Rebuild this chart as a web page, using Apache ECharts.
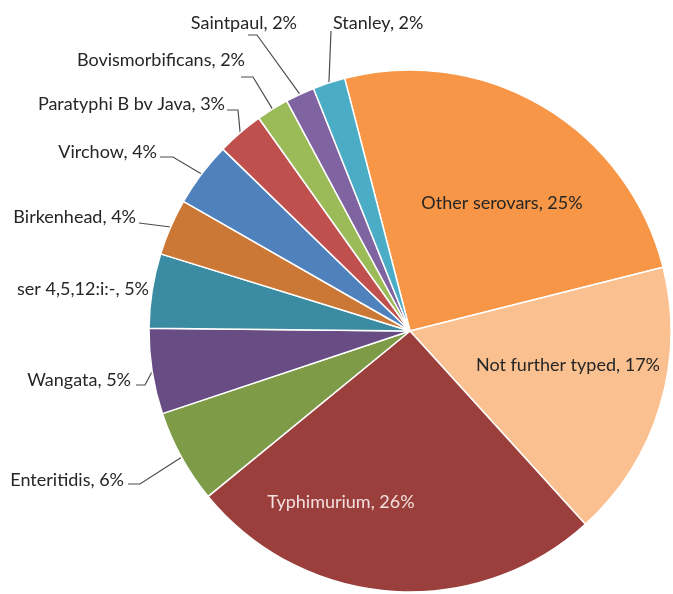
<!DOCTYPE html>
<html>
<head>
<meta charset="utf-8">
<script src="https://cdn.jsdelivr.net/npm/echarts@6/dist/echarts.min.js"></script>
<style>
html,body{margin:0;padding:0;background:#fff;}
#c{width:673px;height:594px;}
</style>
</head>
<body>
<div id="c"></div>
<script>
// Data (percent shares, clockwise from "Other serovars")
const categories = ['Other serovars','Not further typed','Typhimurium','Enteritidis','Wangata','ser 4,5,12:i:-','Birkenhead','Virchow','Paratyphi B bv Java','Bovismorbificans','Saintpaul','Stanley'];
const values = [25.1, 17.2, 25.8, 5.8, 5.3, 4.6, 3.5, 4.0, 2.9, 2.0, 1.8, 2.0];
const labelPercents = [25, 17, 26, 6, 5, 5, 4, 4, 3, 2, 2, 2];

// Styles
const colors = ['#F79646','#FAC090','#9B3F3D','#7E9B48','#684D85','#3B8CA3','#CB7836','#4F81BD','#C0504D','#9BBB59','#8064A2','#4BACC6'];
// label placement: x/y anchor, align; line: start point + horizontal elbow length
const labelPlace = [
  {x:502, y:203, align:'center'},
  {x:568, y:365, align:'center'},
  {x:341, y:502, align:'center'},
  {x:124, y:480, align:'right', lx:128, ly:484, seg:12},
  {x:131, y:380, align:'right', lx:136, ly:385, seg:9},
  {x:149, y:289, align:'right'},
  {x:136, y:217, align:'right', lx:139, ly:223, seg:0},
  {x:157, y:152, align:'right', lx:160, ly:157, seg:13},
  {x:225, y:104, align:'right', lx:227, ly:110, seg:11},
  {x:245, y:60,  align:'right', lx:241, ly:77, seg:12},
  {x:297, y:23,  align:'right', lx:248, ly:35, seg:9},
  {x:333, y:23,  align:'left',  lx:331, ly:31, seg:0}
];
const insideIdx = [0,1,2];

const chart = echarts.init(document.getElementById('c'), null, {renderer:'canvas'});
const data = categories.map((n,i)=>{
  const inside = insideIdx.indexOf(i) >= 0;
  const hasLine = labelPlace[i].lx != null;
  return {
    name: n,
    value: values[i],
    itemStyle: {color: colors[i]},
    label: {
      position: inside ? 'inside' : 'outside',
      color: i === 2 ? '#F4E0DF' : '#262626'
    },
    labelLine: {show: hasLine}
  };
});

chart.setOption({
  animation: false,
  backgroundColor: '#ffffff',
  series: [{
    type: 'pie',
    center: [410, 331],
    radius: [0, 261],
    startAngle: 104.5,
    clockwise: true,
    avoidLabelOverlap: false,
    data: data,
    itemStyle: {borderColor: '#ffffff', borderWidth: 1.5},
    label: {
      show: true,
      fontFamily: 'Lato',
      fontSize: 18,
      formatter: p => p.name + ', ' + labelPercents[p.dataIndex] + '%'
    },
    labelLine: {
      show: true,
      length: 10,
      length2: 10,
      lineStyle: {color: '#4d4d4d', width: 1.2}
    },
    emphasis: {disabled: true},
    labelLayout: function (p) {
      const L = labelPlace[p.dataIndex];
      const res = {x: L.x, y: L.y, align: L.align, verticalAlign: 'middle'};
      if (L.lx != null && p.labelLinePoints) {
        const edge = p.labelLinePoints[0];
        const start = [L.lx, L.ly];
        const elbow = [L.lx + (L.align === 'left' ? -L.seg : L.seg), L.ly];
        res.labelLinePoints = [edge, elbow, start];
      }
      return res;
    }
  }]
});
</script>
</body>
</html>
